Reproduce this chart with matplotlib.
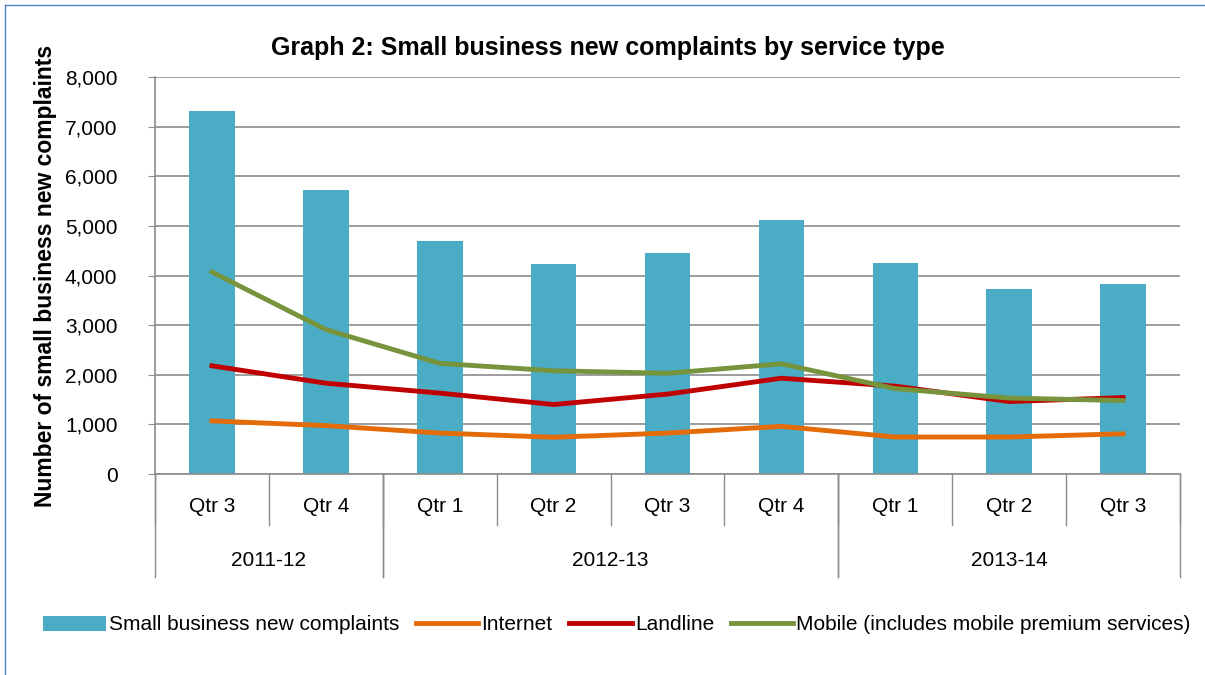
import numpy as np
import matplotlib.pyplot as plt
from matplotlib.lines import Line2D

# Data
quarters = ['Qtr 3', 'Qtr 4', 'Qtr 1', 'Qtr 2', 'Qtr 3', 'Qtr 4', 'Qtr 1', 'Qtr 2', 'Qtr 3']
years = ['2011-12', '2012-13', '2013-14']
year_spans = [(0, 2), (2, 6), (6, 9)]
total = [7320, 5730, 4700, 4230, 4450, 5110, 4260, 3730, 3830]
internet = [1070, 975, 825, 740, 825, 960, 745, 745, 810]
landline = [2180, 1830, 1630, 1400, 1610, 1930, 1770, 1460, 1540]
mobile = [4070, 2910, 2230, 2080, 2030, 2220, 1720, 1530, 1480]

plt.rcParams['font.family'] = ['Liberation Sans', 'DejaVu Sans']
fs = 15

fig = plt.figure(figsize=(12.05, 6.75), dpi=100)
ax = fig.add_axes([155 / 1205, 1 - 474 / 675, (1180 - 155) / 1205, (474 - 77) / 675])

x = np.arange(len(quarters))
b = ax.bar(x, total, width=0.4, color='#4BACC6', zorder=2, label='Small business new complaints')
l1, = ax.plot(x, internet, color='#E36C09', lw=3.5, zorder=3, label='Internet')
l2, = ax.plot(x, landline, color='#C00000', lw=3.5, zorder=3, label='Landline')
l3, = ax.plot(x, mobile, color='#77933C', lw=3.5, zorder=4, label='Mobile (includes mobile premium services)')

ax.set_xlim(-0.5, len(quarters) - 0.5)
ax.set_ylim(0, 8000)
ax.set_yticks(range(0, 8001, 1000))
ax.set_yticklabels([f'{v:,}' for v in range(0, 8001, 1000)], fontsize=fs)
ax.yaxis.grid(True, color='#8c8c8c', lw=1.2, zorder=0)
ax.tick_params(axis='y', length=5, color='#8c8c8c', pad=22)
for s in ['top', 'right']:
    ax.spines[s].set_visible(False)
for s in ['left', 'bottom']:
    ax.spines[s].set_color('#8c8c8c')
    ax.spines[s].set_linewidth(1.2)

# hierarchical category axis
ax.set_xticks([])
trans = ax.get_xaxis_transform()
px = 1 / (474 - 77)
for i, q in enumerate(quarters):
    ax.text(i, -33 * px, q, transform=trans, ha='center', va='center', fontsize=fs)
for i in range(len(quarters) + 1):
    ax.add_line(Line2D([i - 0.5, i - 0.5], [0, -51 * px], transform=trans,
                       color='#8c8c8c', lw=1, clip_on=False))
for (a, e), yr in zip(year_spans, years):
    ax.text((a + e - 1) / 2, -86 * px, yr, transform=trans, ha='center', va='center', fontsize=fs)
    for edge in (a, e):
        ax.add_line(Line2D([edge - 0.5, edge - 0.5], [0, -103 * px], transform=trans,
                           color='#8c8c8c', lw=1, clip_on=False))

ax.set_ylabel('Number of small business new complaints', fontsize=16.5, fontweight='bold')
ax.yaxis.set_label_coords(-98 / 1025, 0.5)
fig.text(608 / 1205, 1 - 48 / 675, 'Graph 2: Small business new complaints by service type',
         ha='center', va='center', fontsize=18, fontweight='bold')

fig.legend([b, l1, l2, l3], [h.get_label() for h in (b, l1, l2, l3)],
           loc='center', bbox_to_anchor=(0.512, 1 - 625 / 675), ncol=4, frameon=False,
           fontsize=fs, handlelength=3.0, handletextpad=0.15, columnspacing=0.8)

# chart border
fig.add_artist(Line2D([5 / 1205, 5 / 1205], [0, 1 - 5 / 675], transform=fig.transFigure, color='#4F81BD', lw=1))
fig.add_artist(Line2D([5 / 1205, 1], [1 - 5 / 675, 1 - 5 / 675], transform=fig.transFigure, color='#4F81BD', lw=1))

fig.savefig('out.png', dpi=100)
